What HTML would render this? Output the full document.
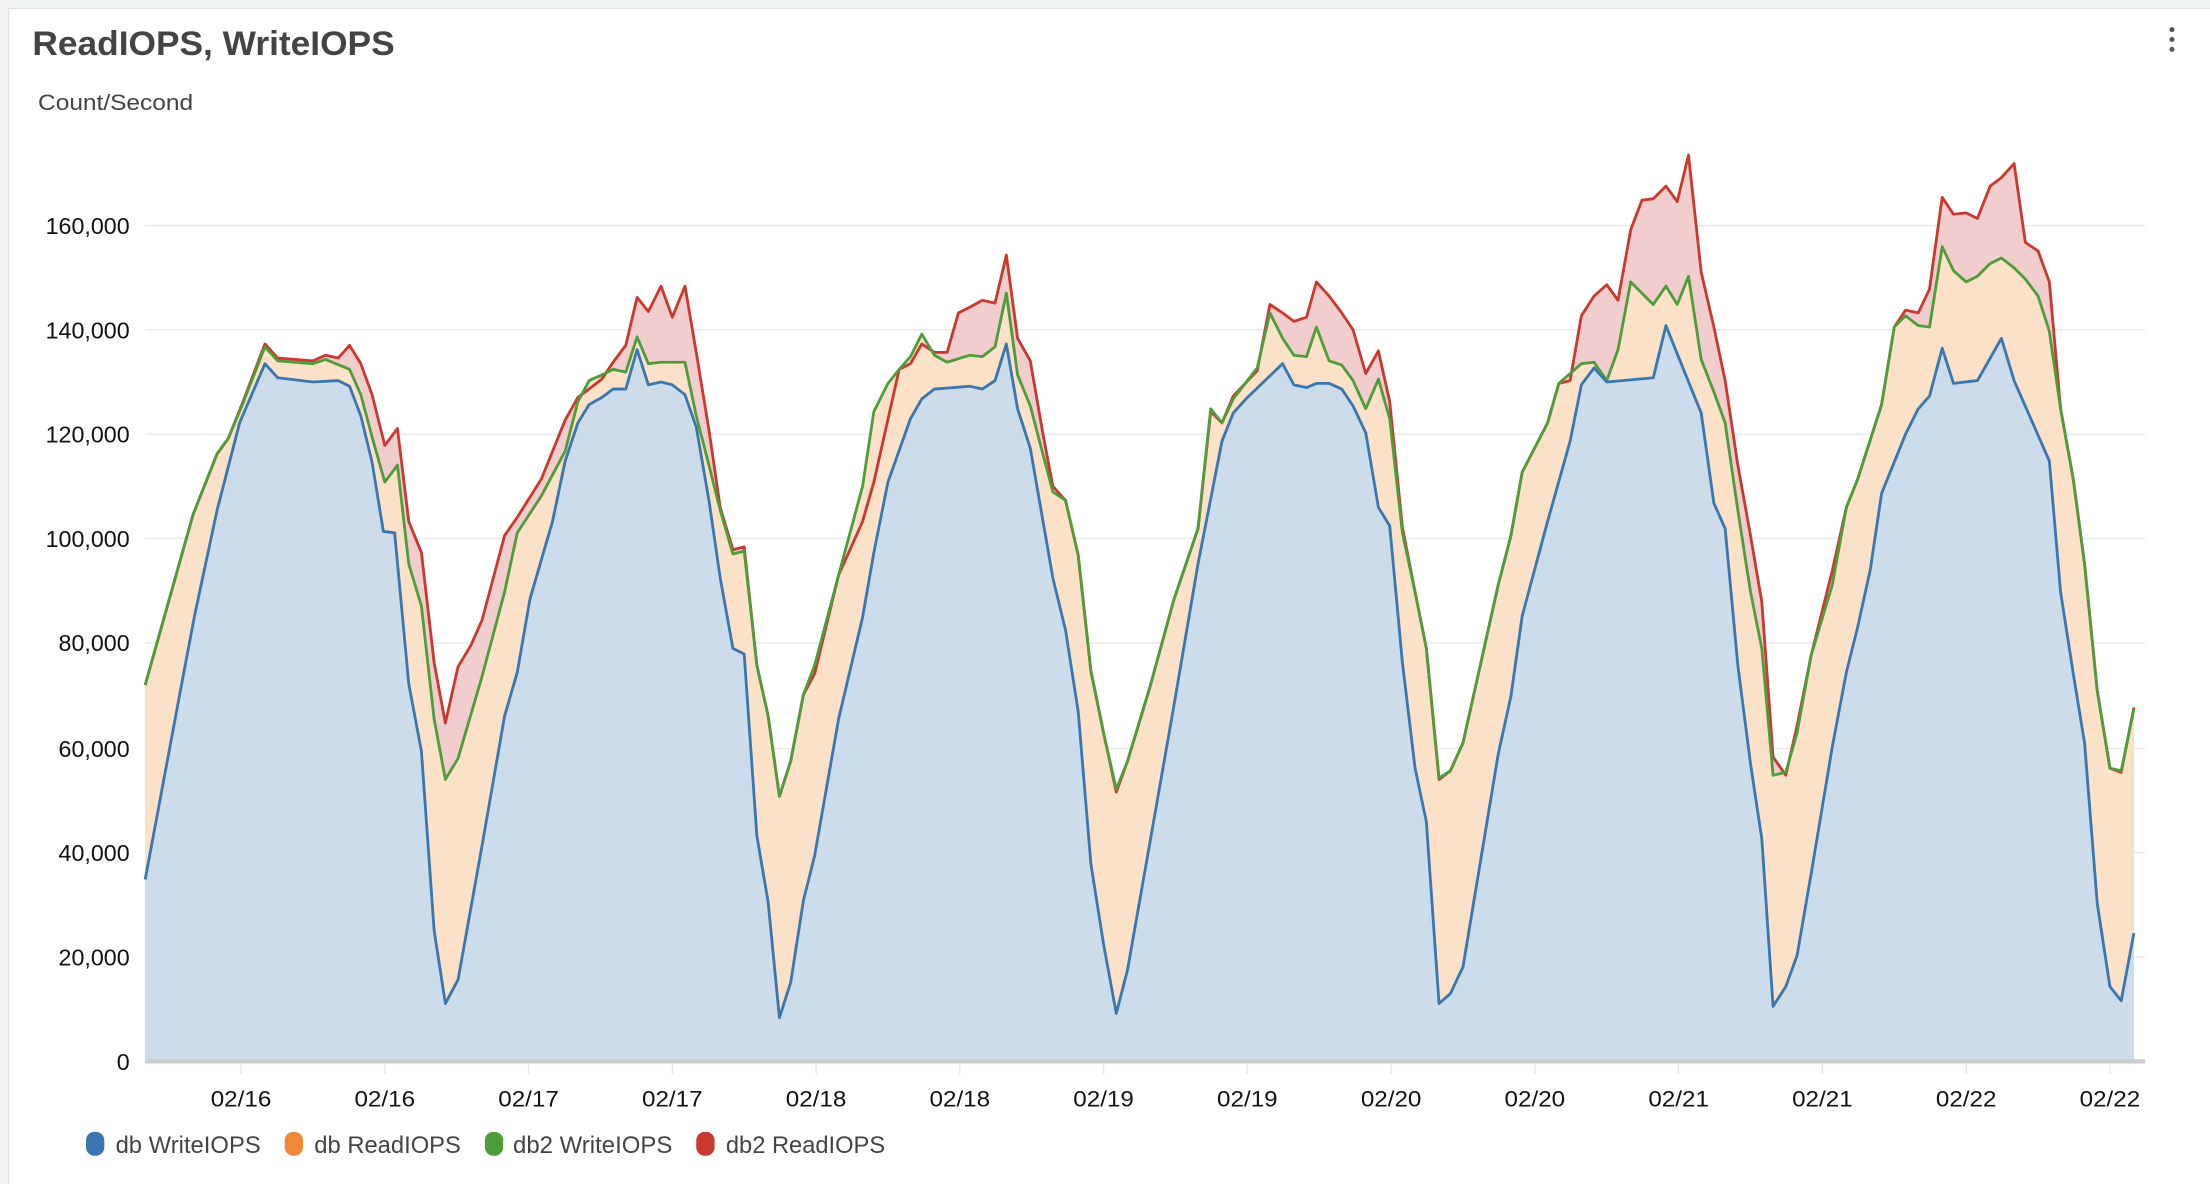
<!DOCTYPE html>
<html><head><meta charset="utf-8"><style>
html,body{margin:0;padding:0;background:#fff;width:2210px;height:1184px;overflow:hidden}
svg{display:block}
text{font-family:"Liberation Sans",sans-serif}
</style></head><body>
<svg width="2210" height="1184" viewBox="0 0 1568 840" xmlns="http://www.w3.org/2000/svg">
<rect x="0" y="0" width="1568" height="840" fill="#f1f2f2"/>
<rect x="6" y="6" width="1568" height="840" fill="#fff" stroke="#e2e2e2" stroke-width="1"/>
<text x="23" y="39" font-size="24" fill="#444" font-weight="bold" textLength="257" lengthAdjust="spacingAndGlyphs">ReadIOPS, WriteIOPS</text>
<text x="27" y="78" font-size="16" fill="#444" textLength="110" lengthAdjust="spacingAndGlyphs">Count/Second</text>
<circle cx="1541" cy="21" r="1.8" fill="#555"/><circle cx="1541" cy="28" r="1.8" fill="#555"/><circle cx="1541" cy="35" r="1.8" fill="#555"/>
<g stroke="#e8e8e8" stroke-width="1">
<line x1="103" y1="160" x2="1522" y2="160"/><line x1="103" y1="234" x2="1522" y2="234"/><line x1="103" y1="308" x2="1522" y2="308"/><line x1="103" y1="382" x2="1522" y2="382"/><line x1="103" y1="456" x2="1522" y2="456"/><line x1="103" y1="531" x2="1522" y2="531"/><line x1="103" y1="605" x2="1522" y2="605"/><line x1="103" y1="679" x2="1522" y2="679"/>
</g>
<g font-size="16.5" fill="#111" text-anchor="end">
<text x="92" y="166">160,000</text><text x="92" y="240">140,000</text><text x="92" y="314">120,000</text><text x="92" y="388">100,000</text><text x="92" y="462">80,000</text><text x="92" y="537">60,000</text><text x="92" y="611">40,000</text><text x="92" y="685">20,000</text><text x="92" y="759">0</text>
</g>
<polygon fill="#f2cdcd" points="103,753 103,486 137,365 154,322 162,311 172,286 188,244 197,254 222,256 231,252 240,254 248,245 256,258 264,280 273,316 282,304 290,370 299,392 308,470 316,513 325,473 334,458 342,440 358,380 367,367 384,340 401,298 410,282 418,276 427,269 435,257 444,245 452,211 460,221 469,203 477,225 486,203 494,250 503,305 511,360 520,390 528,388 537,472 545,508 553,565 561,540 570,493 578,478 595,408 612,370 620,342 638,262 646,258 654,244 663,250 672,250 680,222 688,218 697,213 706,215 714,181 722,240 731,256 740,308 747,345 756,355 765,394 774,476 783,520 792,562 800,540 816,487 833,425 850,375 859,292 867,300 875,281 892,263 901,216 910,222 918,228 927,225 934,200 943,210 952,222 960,234 969,265 978,249 986,285 995,374 1004,420 1012,460 1021,553 1029,547 1038,527 1063,415 1072,380 1080,335 1098,300 1106,272 1114,270 1122,224 1131,210 1140,202 1148,213 1157,163 1165,142 1173,141 1182,132 1190,143 1198,110 1207,193 1216,232 1224,270 1233,330 1242,380 1250,427 1258,537 1267,550 1275,515 1285,465 1300,405 1310,360 1318,340 1327,312 1335,287 1344,232 1352,220 1361,222 1369,205 1378,140 1386,152 1395,151 1403,155 1412,132 1420,126 1429,116 1437,172 1446,178 1454,200 1462,290 1471,340 1479,400 1488,490 1497,545 1505,548 1514,502 1514,753"/>
<polygon fill="#fae1c8" points="103,753 103,486 137,365 154,322 162,311 172,287 188,246 197,256 222,258 231,255 248,262 256,280 264,310 273,342 282,330 290,400 299,430 308,510 316,553 325,538 342,480 358,420 367,378 384,352 401,320 410,285 418,270 427,266 435,262 444,264 452,239 460,258 469,257 486,257 494,295 503,330 511,362 520,393 528,391 537,472 545,508 553,565 561,540 570,493 578,472 595,408 612,345 620,292 630,272 638,262 646,253 654,237 663,252 672,257 688,252 697,253 706,246 714,208 722,266 731,288 747,349 756,355 765,394 774,476 783,520 792,560 800,540 816,487 833,425 850,375 859,290 867,300 875,283 892,261 901,222 910,240 918,252 927,253 934,232 943,256 952,259 960,270 969,290 978,269 986,297 995,378 1004,420 1012,460 1021,552 1029,547 1038,527 1063,415 1072,380 1080,335 1098,300 1106,272 1114,265 1122,258 1131,257 1140,270 1148,248 1157,200 1165,208 1173,216 1182,203 1190,216 1198,196 1207,255 1216,278 1224,300 1233,362 1242,420 1250,460 1258,550 1267,548 1275,520 1285,465 1300,415 1310,360 1318,340 1327,312 1335,287 1344,232 1352,224 1361,231 1369,232 1378,175 1386,192 1395,200 1403,196 1412,187 1420,183 1429,190 1437,198 1446,210 1454,235 1462,290 1471,340 1479,400 1488,490 1497,545 1505,547 1514,503 1514,753"/>
<polygon fill="#ccdcea" points="103,753 103,624 128,490 138,437 154,362 170,300 188,258 197,268 222,271 240,270 248,274 256,295 264,328 272,377 280,378 290,485 299,533 308,660 316,712 325,695 342,600 358,508 367,477 376,425 392,370 401,327 410,300 418,287 427,282 435,276 444,276 452,248 460,273 469,271 477,273 486,280 494,303 503,355 511,410 520,460 528,464 537,593 545,640 553,722 561,697 570,639 578,607 595,510 612,438 620,392 630,342 646,297 654,283 663,276 688,274 697,276 706,270 714,244 722,290 731,318 747,410 756,447 765,505 774,613 783,670 792,719 800,688 816,597 833,500 850,400 867,313 875,293 884,283 910,258 918,273 927,275 934,272 943,272 952,276 960,288 969,307 978,360 986,373 995,470 1004,545 1012,583 1021,712 1029,705 1038,686 1063,535 1072,494 1080,437 1098,370 1114,313 1122,273 1131,261 1140,271 1173,268 1182,231 1190,251 1207,293 1216,357 1224,375 1233,472 1242,542 1250,595 1258,714 1267,700 1275,678 1285,620 1300,530 1310,477 1318,445 1327,404 1335,350 1352,308 1361,290 1369,281 1378,247 1386,272 1403,270 1420,240 1429,270 1454,327 1462,420 1471,478 1479,527 1488,641 1497,700 1505,710 1514,662 1514,753"/>
<g fill="none" stroke-width="2" stroke-linejoin="round">
<polyline stroke="#c9392f" points="103,486 137,365 154,322 162,311 172,286 188,244 197,254 222,256 231,252 240,254 248,245 256,258 264,280 273,316 282,304 290,370 299,392 308,470 316,513 325,473 334,458 342,440 358,380 367,367 384,340 401,298 410,282 418,276 427,269 435,257 444,245 452,211 460,221 469,203 477,225 486,203 494,250 503,305 511,360 520,390 528,388 537,472 545,508 553,565 561,540 570,493 578,478 595,408 612,370 620,342 638,262 646,258 654,244 663,250 672,250 680,222 688,218 697,213 706,215 714,181 722,240 731,256 740,308 747,345 756,355 765,394 774,476 783,520 792,562 800,540 816,487 833,425 850,375 859,292 867,300 875,281 892,263 901,216 910,222 918,228 927,225 934,200 943,210 952,222 960,234 969,265 978,249 986,285 995,374 1004,420 1012,460 1021,553 1029,547 1038,527 1063,415 1072,380 1080,335 1098,300 1106,272 1114,270 1122,224 1131,210 1140,202 1148,213 1157,163 1165,142 1173,141 1182,132 1190,143 1198,110 1207,193 1216,232 1224,270 1233,330 1242,380 1250,427 1258,537 1267,550 1275,515 1285,465 1300,405 1310,360 1318,340 1327,312 1335,287 1344,232 1352,220 1361,222 1369,205 1378,140 1386,152 1395,151 1403,155 1412,132 1420,126 1429,116 1437,172 1446,178 1454,200 1462,290 1471,340 1479,400 1488,490 1497,545 1505,548 1514,502"/>
<polyline stroke="#4f9c3a" points="103,486 137,365 154,322 162,311 172,287 188,246 197,256 222,258 231,255 248,262 256,280 264,310 273,342 282,330 290,400 299,430 308,510 316,553 325,538 342,480 358,420 367,378 384,352 401,320 410,285 418,270 427,266 435,262 444,264 452,239 460,258 469,257 486,257 494,295 503,330 511,362 520,393 528,391 537,472 545,508 553,565 561,540 570,493 578,472 595,408 612,345 620,292 630,272 638,262 646,253 654,237 663,252 672,257 688,252 697,253 706,246 714,208 722,266 731,288 747,349 756,355 765,394 774,476 783,520 792,560 800,540 816,487 833,425 850,375 859,290 867,300 875,283 892,261 901,222 910,240 918,252 927,253 934,232 943,256 952,259 960,270 969,290 978,269 986,297 995,378 1004,420 1012,460 1021,552 1029,547 1038,527 1063,415 1072,380 1080,335 1098,300 1106,272 1114,265 1122,258 1131,257 1140,270 1148,248 1157,200 1165,208 1173,216 1182,203 1190,216 1198,196 1207,255 1216,278 1224,300 1233,362 1242,420 1250,460 1258,550 1267,548 1275,520 1285,465 1300,415 1310,360 1318,340 1327,312 1335,287 1344,232 1352,224 1361,231 1369,232 1378,175 1386,192 1395,200 1403,196 1412,187 1420,183 1429,190 1437,198 1446,210 1454,235 1462,290 1471,340 1479,400 1488,490 1497,545 1505,547 1514,503"/>
<polyline stroke="#3a76b0" points="103,624 128,490 138,437 154,362 170,300 188,258 197,268 222,271 240,270 248,274 256,295 264,328 272,377 280,378 290,485 299,533 308,660 316,712 325,695 342,600 358,508 367,477 376,425 392,370 401,327 410,300 418,287 427,282 435,276 444,276 452,248 460,273 469,271 477,273 486,280 494,303 503,355 511,410 520,460 528,464 537,593 545,640 553,722 561,697 570,639 578,607 595,510 612,438 620,392 630,342 646,297 654,283 663,276 688,274 697,276 706,270 714,244 722,290 731,318 747,410 756,447 765,505 774,613 783,670 792,719 800,688 816,597 833,500 850,400 867,313 875,293 884,283 910,258 918,273 927,275 934,272 943,272 952,276 960,288 969,307 978,360 986,373 995,470 1004,545 1012,583 1021,712 1029,705 1038,686 1063,535 1072,494 1080,437 1098,370 1114,313 1122,273 1131,261 1140,271 1173,268 1182,231 1190,251 1207,293 1216,357 1224,375 1233,472 1242,542 1250,595 1258,714 1267,700 1275,678 1285,620 1300,530 1310,477 1318,445 1327,404 1335,350 1352,308 1361,290 1369,281 1378,247 1386,272 1403,270 1420,240 1429,270 1454,327 1462,420 1471,478 1479,527 1488,641 1497,700 1505,710 1514,662"/>
</g>
<line x1="103" y1="753" x2="1522" y2="753" stroke="#cccccc" stroke-width="3"/>
<g stroke="#e6e6e6" stroke-width="1">
<line x1="171" y1="755" x2="171" y2="762"/><line x1="273" y1="755" x2="273" y2="762"/><line x1="375" y1="755" x2="375" y2="762"/><line x1="477" y1="755" x2="477" y2="762"/><line x1="579" y1="755" x2="579" y2="762"/><line x1="681" y1="755" x2="681" y2="762"/><line x1="783" y1="755" x2="783" y2="762"/><line x1="885" y1="755" x2="885" y2="762"/><line x1="987" y1="755" x2="987" y2="762"/><line x1="1089" y1="755" x2="1089" y2="762"/><line x1="1191" y1="755" x2="1191" y2="762"/><line x1="1293" y1="755" x2="1293" y2="762"/><line x1="1395" y1="755" x2="1395" y2="762"/><line x1="1497" y1="755" x2="1497" y2="762"/>
</g>
<g font-size="16" fill="#111" text-anchor="middle">
<text x="171" y="785" textLength="43" lengthAdjust="spacingAndGlyphs">02/16</text><text x="273" y="785" textLength="43" lengthAdjust="spacingAndGlyphs">02/16</text><text x="375" y="785" textLength="43" lengthAdjust="spacingAndGlyphs">02/17</text><text x="477" y="785" textLength="43" lengthAdjust="spacingAndGlyphs">02/17</text><text x="579" y="785" textLength="43" lengthAdjust="spacingAndGlyphs">02/18</text><text x="681" y="785" textLength="43" lengthAdjust="spacingAndGlyphs">02/18</text><text x="783" y="785" textLength="43" lengthAdjust="spacingAndGlyphs">02/19</text><text x="885" y="785" textLength="43" lengthAdjust="spacingAndGlyphs">02/19</text><text x="987" y="785" textLength="43" lengthAdjust="spacingAndGlyphs">02/20</text><text x="1089" y="785" textLength="43" lengthAdjust="spacingAndGlyphs">02/20</text><text x="1191" y="785" textLength="43" lengthAdjust="spacingAndGlyphs">02/21</text><text x="1293" y="785" textLength="43" lengthAdjust="spacingAndGlyphs">02/21</text><text x="1395" y="785" textLength="43" lengthAdjust="spacingAndGlyphs">02/22</text><text x="1497" y="785" textLength="43" lengthAdjust="spacingAndGlyphs">02/22</text>
</g>
<g font-size="17" fill="#444">
<rect x="61" y="803" width="13" height="17" rx="6" fill="#3a76b0"/><text x="82" y="818" textLength="103" lengthAdjust="spacingAndGlyphs">db WriteIOPS</text>
<rect x="202" y="803" width="13" height="17" rx="6" fill="#f0883a"/><text x="223" y="818" textLength="104" lengthAdjust="spacingAndGlyphs">db ReadIOPS</text>
<rect x="344" y="803" width="13" height="17" rx="6" fill="#4f9c3a"/><text x="364" y="818" textLength="113" lengthAdjust="spacingAndGlyphs">db2 WriteIOPS</text>
<rect x="494" y="803" width="13" height="17" rx="6" fill="#c9392f"/><text x="515" y="818" textLength="113" lengthAdjust="spacingAndGlyphs">db2 ReadIOPS</text>
</g>
</svg>
</body></html>
